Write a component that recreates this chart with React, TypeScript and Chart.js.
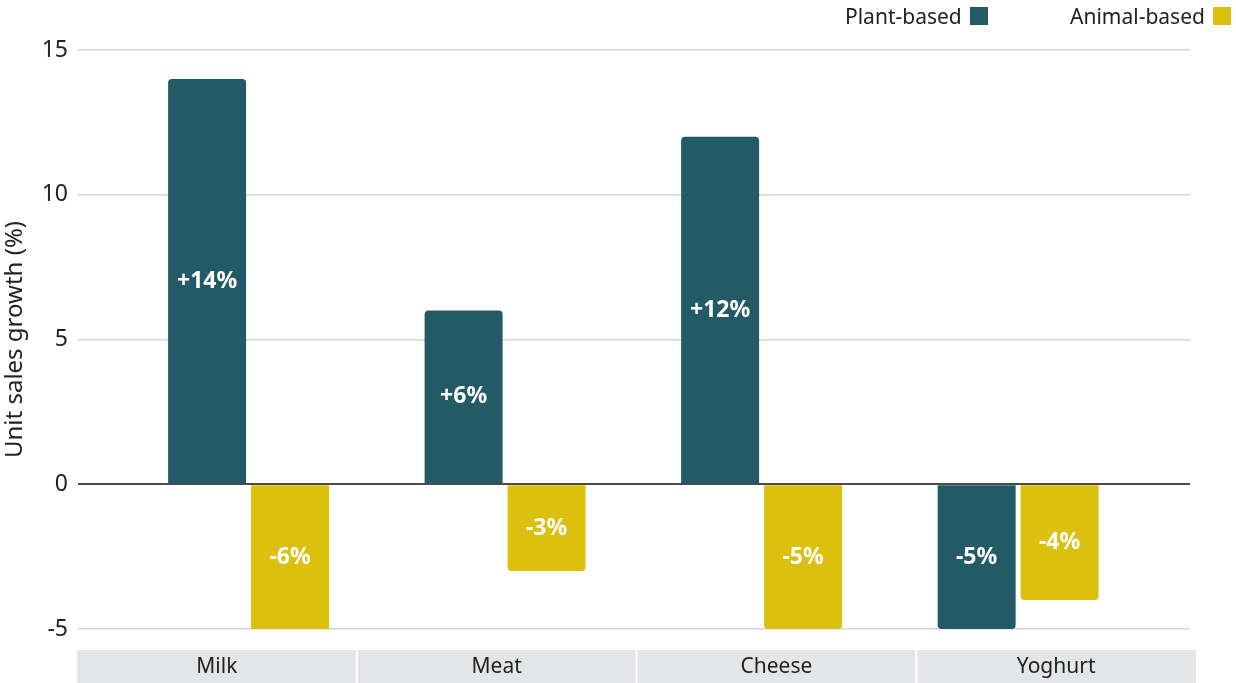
import { useEffect, useRef } from "react";
import { Chart, registerables } from "chart.js";

Chart.register(...registerables);

const categories = ["Milk", "Meat", "Cheese", "Yoghurt"];
const plantBased = [14, 6, 12, -5];
const animalBased = [-6, -3, -5, -4];
const seriesNames = ["Plant-based", "Animal-based"];
const seriesColors = ["#225b66", "#dbc10d"];
const yTitle = "Unit sales growth (%)";
const FONT = "'Noto Sans', 'DejaVu Sans', sans-serif";

const valueLabels = {
  id: "valueLabels",
  afterDatasetsDraw(chart: any) {
    const { ctx, chartArea } = chart;
    ctx.save();
    ctx.font = `bold 23px ${FONT}`;
    ctx.fillStyle = "#ffffff";
    ctx.textAlign = "center";
    ctx.textBaseline = "middle";
    chart.data.datasets.forEach((ds: any, di: number) => {
      const meta = chart.getDatasetMeta(di);
      meta.data.forEach((el: any, i: number) => {
        const v = ds.data[i].y;
        const top = Math.max(Math.min(el.y, el.base), chartArea.top);
        const bottom = Math.min(Math.max(el.y, el.base), chartArea.bottom);
        const mid = (top + bottom) / 2;
        const txt = (v > 0 ? "+" : "") + v + "%";
        ctx.fillText(txt, el.x, mid);
      });
    });
    ctx.restore();
  },
};

const categoryBand = {
  id: "categoryBand",
  afterDraw(chart: any) {
    const { ctx, chartArea, height } = chart;
    const left = chartArea.left - 1;
    const right = chartArea.right + 6;
    const top = chartArea.bottom + 21;
    const w = (right - left) / categories.length;
    ctx.save();
    ctx.fillStyle = "#e4e5e7";
    ctx.fillRect(left, top, right - left, height - top);
    ctx.fillStyle = "#ffffff";
    for (let i = 1; i < categories.length; i++) {
      ctx.fillRect(left + w * i - 1, top, 2, height - top);
    }
    ctx.fillStyle = "#222222";
    ctx.font = `21px ${FONT}`;
    ctx.textAlign = "center";
    ctx.textBaseline = "middle";
    categories.forEach((c, i) => {
      ctx.fillText(c, left + w * (i + 0.5), top + (height - top) / 2 + 1);
    });
    ctx.restore();
  },
};

export default function App() {
  const ref = useRef<HTMLCanvasElement | null>(null);

  useEffect(() => {
    if (!ref.current) return;
    const series = [plantBased, animalBased];
    const chart = new Chart(ref.current, {
      type: "bar",
      data: {
        datasets: series.map((vals, s) => ({
          label: seriesNames[s],
          data: vals.map((v, i) => ({ x: i, y: v })),
          backgroundColor: seriesColors[s],
          borderRadius: 4,
          borderSkipped: "start",
          categoryPercentage: 0.647,
          barPercentage: 0.94,
        })),
      },
      options: {
        animation: false,
        responsive: true,
        maintainAspectRatio: false,
        layout: { padding: { left: 0, right: 46, top: 50, bottom: 54 } },
        plugins: {
          legend: { display: false },
          tooltip: { enabled: false },
        },
        scales: {
          x: {
            type: "linear",
            min: -0.665,
            max: 3.67,
            offset: false,
            display: false,
            ticks: { stepSize: 1, includeBounds: false },
          },
          y: {
            min: -5,
            max: 15,
            afterFit: (scale: any) => {
              scale.width = 78;
            },
            ticks: {
              stepSize: 5,
              padding: 10,
              color: "#222222",
              font: { family: FONT, size: 23 },
            },
            grid: {
              drawTicks: false,
              color: (c: any) => (c.tick && c.tick.value === 0 ? "#4a4a4a" : "#d6d6d6"),
              lineWidth: (c: any) => (c.tick && c.tick.value === 0 ? 2 : 1.5),
            },
            border: { display: false },
            title: {
              display: true,
              text: yTitle,
              color: "#222222",
              font: { family: FONT, size: 24 },
              padding: { top: 1, bottom: 0 },
            },
          },
        },
      },
      plugins: [valueLabels, categoryBand],
    } as any);
    return () => chart.destroy();
  }, []);

  const legendItem = (i: number, left: number) => (
    <div
      key={i}
      style={{
        position: "absolute",
        left,
        top: 2,
        display: "flex",
        alignItems: "center",
        gap: 8,
        fontFamily: FONT,
        fontSize: 21,
        color: "#222222",
      }}
    >
      <span>{seriesNames[i]}</span>
      <span style={{ display: "inline-block", width: 18, height: 18, background: seriesColors[i] }} />
    </div>
  );

  return (
    <div style={{ position: "fixed", left: 0, top: 0, width: 1236, height: 683, background: "#ffffff" }}>
      <canvas ref={ref} style={{ width: "100%", height: "100%" }} />
      {legendItem(0, 845)}
      {legendItem(1, 1070)}
    </div>
  );
}
